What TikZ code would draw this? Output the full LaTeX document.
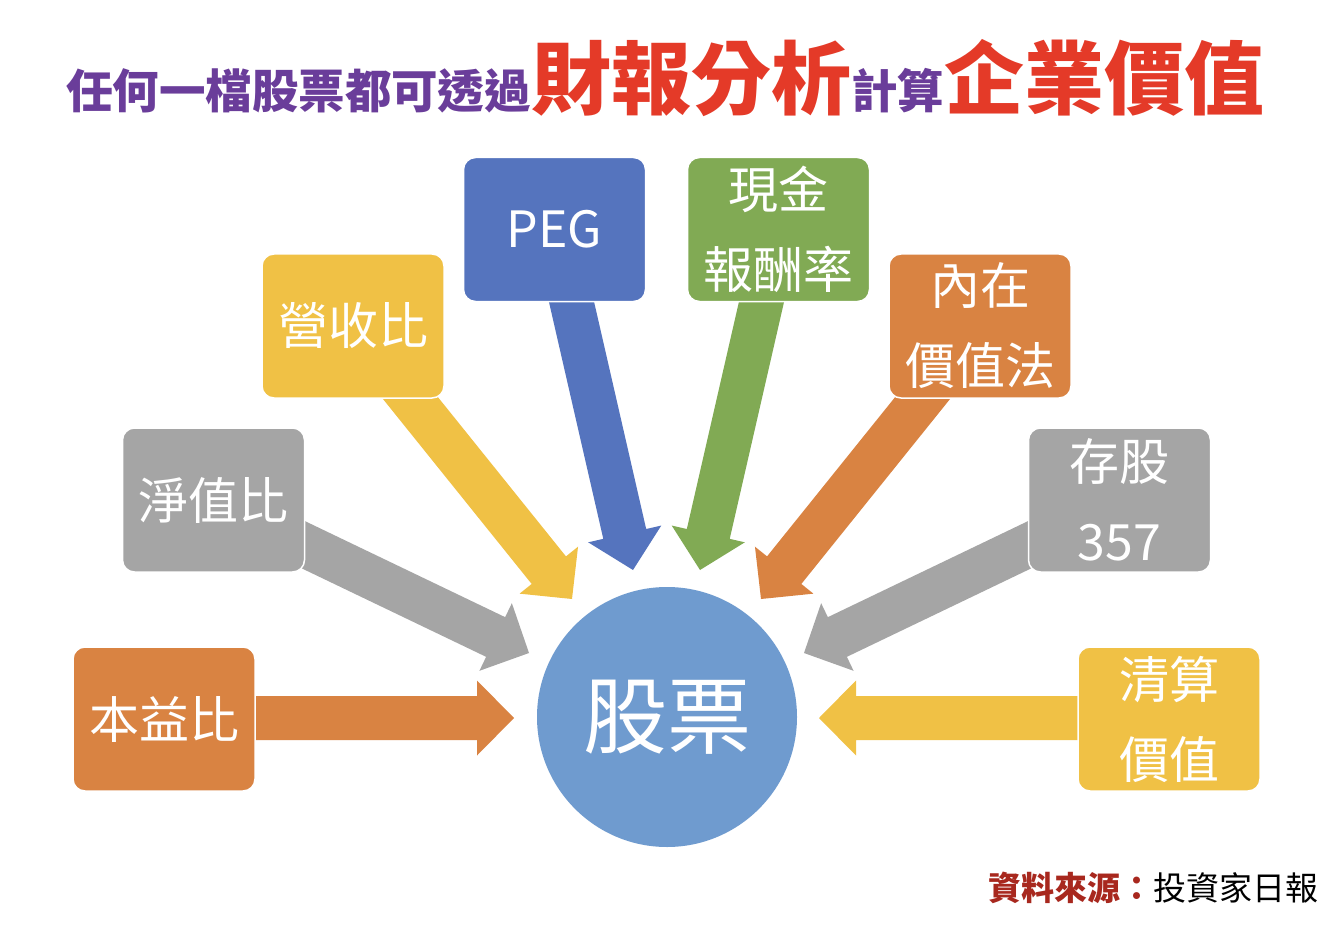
\documentclass[tikz,border=0pt]{standalone}
\usepackage{fontspec}
\setmainfont{Noto Sans CJK TC}
\usetikzlibrary{calc}
\definecolor{orangeC}{RGB}{217,131,66}
\definecolor{yellowC}{RGB}{240,193,69}
\definecolor{grayC}{RGB}{165,165,165}
\definecolor{blueC}{RGB}{85,116,190}
\definecolor{greenC}{RGB}{129,170,84}
\definecolor{circleC}{RGB}{111,155,207}
\definecolor{purpleT}{RGB}{106,61,154}
\definecolor{redT}{RGB}{228,58,40}
\definecolor{srcRed}{RGB}{168,40,30}
\newcommand{\blkarrow}[3]{%
  \coordinate (hb) at ($(#2)!37pt!(#1)$);
  \coordinate (s0) at ($(#1)!-30pt!(#2)$);
  \fill[#3] ($(s0)!22pt!90:(#2)$) -- ($(hb)!22pt!90:(#2)$) -- ($(hb)!37.5pt!90:(#2)$) -- (#2)
    -- ($(hb)!37.5pt!-90:(#2)$) -- ($(hb)!22pt!-90:(#2)$) -- ($(s0)!22pt!-90:(#2)$) -- cycle;
}
\tikzset{
  box/.style={rectangle, rounded corners=12pt, draw=white, line width=1.5pt,
    minimum width=182pt, minimum height=144pt, inner sep=0pt, text=white,
    align=center, font=\fontsize{50}{80}\selectfont},
  ttl/.style={anchor=base west, inner sep=0pt, outer sep=0pt},
}
\begin{document}
\begin{tikzpicture}[x=1pt,y=-1pt]
\fill[white] (0,0) rectangle (1339,936);
\useasboundingbox (0,0) rectangle (1339,936);

% title
\node[ttl, text=purpleT, font=\bfseries\fontsize{46.5}{46.5}\selectfont] (t1) at (66,109) {任何一檔股票都可透過};
\node[ttl, text=redT, font=\bfseries\fontsize{80}{80}\selectfont] (t2) at (t1.base east) {財報分析};
\node[ttl, text=purpleT, font=\bfseries\fontsize{46.5}{46.5}\selectfont] (t3) at (t2.base east) {計算};
\node[ttl, text=redT, font=\bfseries\fontsize{80}{80}\selectfont] (t4) at (t3.base east) {企業價值};

% arrow anchors
\coordinate (sPE) at (258,718);   \coordinate (tPE) at (514,718);
\coordinate (sPB) at (306,546);   \coordinate (tPB) at (529,653);
\coordinate (sRV) at (412,400);   \coordinate (tRV) at (572,599);
\coordinate (sPG) at (572,304);   \coordinate (tPG) at (633,570);
\coordinate (sCS) at (761,304);   \coordinate (tCS) at (700,570);
\coordinate (sIV) at (921,400);   \coordinate (tIV) at (761,599);
\coordinate (sKP) at (1027,546);  \coordinate (tKP) at (804,653);
\coordinate (sLQ) at (1075,718);  \coordinate (tLQ) at (819,718);

\blkarrow{sPE}{tPE}{orangeC}
\blkarrow{sPB}{tPB}{grayC}
\blkarrow{sRV}{tRV}{yellowC}
\blkarrow{sPG}{tPG}{blueC}
\blkarrow{sCS}{tCS}{greenC}
\blkarrow{sIV}{tIV}{orangeC}
\blkarrow{sKP}{tKP}{grayC}
\blkarrow{sLQ}{tLQ}{yellowC}

% boxes
\node[box, fill=orangeC] (pe)   at (164,719)    {本益比};
\node[box, fill=grayC]   (pb)   at (213.5,500)  {淨值比};
\node[box, fill=yellowC] (rev)  at (353,326)    {營收比};
\node[box, fill=blueC]   (peg)  at (554.5,229.5){PEG};
\node[box, fill=greenC]  (cash) at (778.5,229.5){現金\\報酬率};
\node[box, fill=orangeC] (iv)   at (980,326)    {內在\\價值法};
\node[box, fill=grayC]   (keep) at (1119.5,500) {存股\\357};
\node[box, fill=yellowC] (liq)  at (1169,719)   {清算\\價值};

% center circle
\node[circle, fill=circleC, minimum size=260pt, inner sep=0pt, text=white,
  font=\fontsize{84}{84}\selectfont] (stock) at (667,717) {股票};

% source
\node[anchor=base east, inner sep=0pt, font=\fontsize{33}{33}\selectfont] (src) at (1319,900)
  {\textcolor{srcRed}{\bfseries 資料來源：}投資家日報};
\end{tikzpicture}
\end{document}
